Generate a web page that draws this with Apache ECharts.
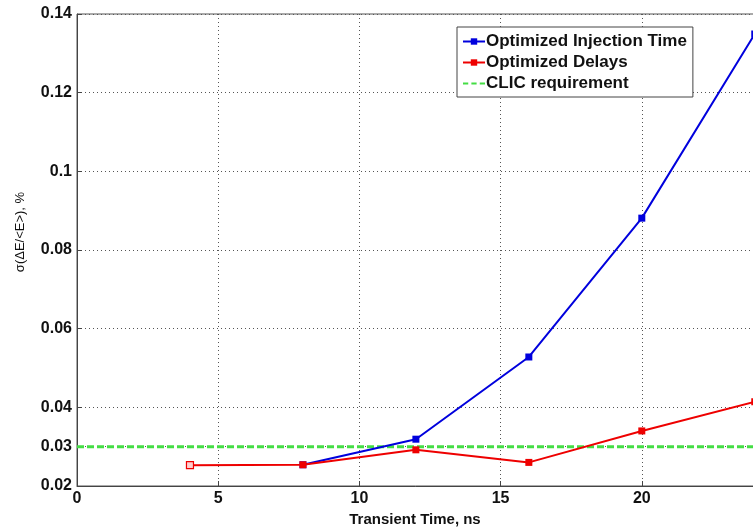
<!DOCTYPE html>
<html>
<head>
<meta charset="utf-8">
<script src="https://cdn.jsdelivr.net/npm/echarts@6/dist/echarts.min.js"></script>
<style>
html, body { margin: 0; padding: 0; background: #fff; }
#chart { width: 753px; height: 527px; }
</style>
</head>
<body>
<div id="chart"></div>
<script>
// Transient time (ns) and energy spread sigma(dE/<E>) in %
const injectionTime = [8, 12, 16, 20, 24];
const injectionSpread = [0.0254, 0.0319, 0.0528, 0.0881, 0.1349];

const delayTime = [4, 8, 12, 16, 20, 24];
const delaySpread = [0.0253, 0.0254, 0.0292, 0.0260, 0.0340, 0.0414];

const requirementTime = [0, 25];
const requirementSpread = [0.03, 0.03];

const yTicks = [0.02, 0.03, 0.04, 0.06, 0.08, 0.1, 0.12, 0.14];
const xTicks = [0, 5, 10, 15, 20];

const pair = (xs, ys) => xs.map((x, i) => [x, ys[i]]);

const font = 'Liberation Sans, Arial, sans-serif';
const chart = echarts.init(document.getElementById('chart'), null, { renderer: 'canvas' });

const delayData = pair(delayTime, delaySpread).map((p, i) =>
  i === 0 ? { value: p, itemStyle: { color: '#ffd0d0', borderColor: '#ee0000', borderWidth: 1.2 } } : p
);

// dashed legend glyph for the requirement line
const dashIcon = 'path://M0,0h5v2h-5z M8,0h5v2h-5z M16,0h5v2h-5z';

chart.setOption({
  backgroundColor: '#fff',
  animation: false,
  grid: {
    left: 77, top: 14, width: 706, bottom: 41,
    outerBoundsMode: 'none', containLabel: false,
    show: true, borderColor: '#555', borderWidth: 1, backgroundColor: '#fff'
  },
  legend: {
    left: 457, top: 27,
    orient: 'vertical',
    itemWidth: 22, itemHeight: 8, itemGap: 4,
    padding: [6, 6, 5, 5],
    backgroundColor: '#fff',
    borderColor: '#444', borderWidth: 1, borderRadius: 0,
    textStyle: { fontFamily: font, fontWeight: 'bold', fontSize: 17, color: '#111', padding: [0, 0, 0, -4] },
    data: [
      'Optimized Injection Time',
      'Optimized Delays',
      { name: 'CLIC requirement', icon: dashIcon, itemStyle: { color: '#44dd44' } }
    ]
  },
  xAxis: {
    type: 'value', min: 0, max: 25,
    name: 'Transient Time, ns',
    nameLocation: 'middle', nameGap: 24,
    nameTextStyle: { fontFamily: font, fontWeight: 'bold', fontSize: 15, color: '#111', padding: [0, 30, 0, 0] },
    axisLine: { show: true, lineStyle: { color: '#444', width: 1 } },
    axisTick: { show: true, inside: true, length: 5, lineStyle: { color: '#444' }, customValues: xTicks },
    axisLabel: { fontFamily: font, fontWeight: 'bold', fontSize: 16, color: '#111', margin: 5, customValues: xTicks },
    splitLine: { show: true, lineStyle: { color: '#555', type: [1, 3], width: 1 } }
  },
  yAxis: {
    type: 'value', min: 0.02, max: 0.14,
    name: 'σ(ΔE/<E>), %',
    nameLocation: 'middle', nameGap: 50, nameRotate: 90,
    nameTextStyle: { fontFamily: font, fontSize: 13, color: '#111', padding: [0, 0, 0, 36] },
    axisLine: { show: true, lineStyle: { color: '#444', width: 1 } },
    axisTick: { show: true, inside: true, length: 5, lineStyle: { color: '#444' }, customValues: yTicks },
    axisLabel: {
      fontFamily: font, fontWeight: 'bold', fontSize: 16, color: '#111', margin: 5,
      customValues: yTicks,
      formatter: v => String(Math.round(v * 100) / 100)
    },
    splitLine: { show: true, lineStyle: { color: '#555', type: [1, 3], width: 1 } }
  },
  series: [
    {
      name: 'CLIC requirement', type: 'line',
      data: pair(requirementTime, requirementSpread),
      symbol: 'none', silent: true, z: 1,
      lineStyle: { color: '#44dd44', width: 3, type: [7, 3] },
      itemStyle: { color: '#44dd44' }
    },
    {
      name: 'Optimized Injection Time', type: 'line',
      data: pair(injectionTime, injectionSpread),
      symbol: 'rect', symbolSize: 7, z: 3,
      lineStyle: { color: '#0000dd', width: 2 },
      itemStyle: { color: '#0000dd' }
    },
    {
      name: 'Optimized Delays', type: 'line',
      data: delayData,
      symbol: 'rect', symbolSize: 7, z: 4,
      lineStyle: { color: '#ee0000', width: 2 },
      itemStyle: { color: '#ee0000' }
    }
  ]
});
</script>
</body>
</html>
